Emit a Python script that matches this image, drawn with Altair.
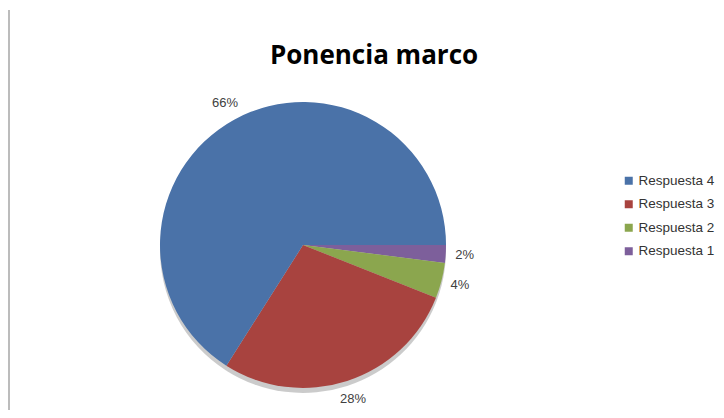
import altair as alt
import pandas as pd

categories = ["Respuesta 1", "Respuesta 2", "Respuesta 3", "Respuesta 4"]
values = [2, 4, 28, 66]
labels = ["2%", "4%", "28%", "66%"]
order = [1, 2, 3, 4]
legend_order = ["Respuesta 4", "Respuesta 3", "Respuesta 2", "Respuesta 1"]
colors = ["#4A72A8", "#A8433F", "#8BA64E", "#7D5F9B"]

df = pd.DataFrame({"cat": categories, "value": values, "label": labels, "ord": order})

CX, CY = 295, 237
R = 143
theta_scale = alt.Scale(range=[1.5708, 7.854])

base = alt.Chart(df).encode(
    theta=alt.Theta("value:Q", stack=True, scale=theta_scale),
    order=alt.Order("ord:Q", sort="ascending"),
)

shadow = base.mark_arc(radius=R, x=CX, y=CY + 5).encode(
    color=alt.value("#6b6b6b"), opacity=alt.value(0.35)
)

pie = base.mark_arc(radius=R, x=CX, y=CY).encode(
    color=alt.Color(
        "cat:N",
        scale=alt.Scale(domain=legend_order, range=colors),
        sort=legend_order,
        legend=alt.Legend(
            title=None,
            orient="none",
            legendX=614,
            legendY=166,
            symbolType="square",
            symbolSize=64,
            symbolStrokeWidth=0,
            labelFont="Liberation Sans",
            labelFontSize=13.5,
            labelColor="#333333",
            rowPadding=8.5,
            labelOffset=3,
            labelLimit=200,
        ),
    )
)

text = base.mark_text(radius=162, x=CX, y=CY, font="Liberation Sans", fontSize=13, color="#404040").encode(
    text="label:N"
)

title = alt.Chart(pd.DataFrame({"t": ["Ponencia marco"]})).mark_text(
    font="Open Sans", fontSize=26, fontWeight="bold", color="#000000"
).encode(text="t:N", x=alt.value(366), y=alt.value(48))

border = alt.Chart(pd.DataFrame({"a": [0]})).mark_rule(color="#a6a6a6", strokeWidth=1.5).encode(
    x=alt.value(1), y=alt.value(2), y2=alt.value(410)
)

chart = alt.layer(border, shadow, pie, text, title).properties(
    width=708, height=402, autosize=alt.AutoSizeParams(type="none"), padding=0
).configure_view(stroke=None)

chart.save("out.html", embed_options={"renderer": "svg", "actions": False})
